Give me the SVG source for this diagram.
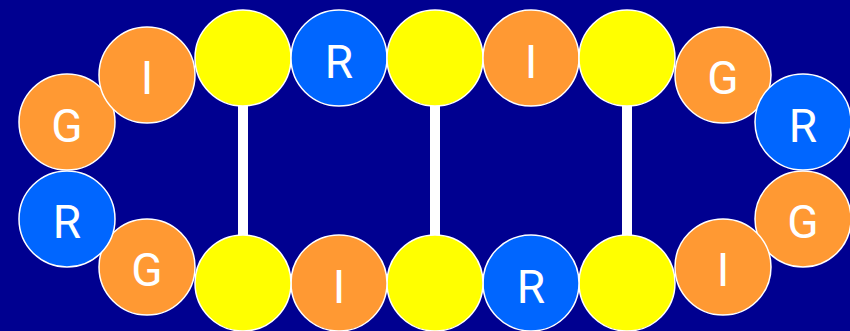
<svg xmlns="http://www.w3.org/2000/svg" width="850" height="331" viewBox="0 0 850 331">
<style>
.n{stroke:#ffffff;stroke-width:1.5}
.o{fill:#ff9933}
.b{fill:#0066ff}
.y{fill:#ffff00}
.t{fill:#ffffff;font-family:Roboto,"Liberation Sans",sans-serif;font-size:46px;text-anchor:middle}
.c{stroke:#ffffff;stroke-width:10;fill:none}
</style>
<rect width="850" height="331" fill="#000090"/>
<g id="connectors">
<line class="c" x1="243" y1="58" x2="243" y2="283"/>
<line class="c" x1="435" y1="58" x2="435" y2="283"/>
<line class="c" x1="627" y1="58" x2="627" y2="283"/>
</g>
<g id="n1"><circle class="n o" cx="67" cy="122" r="48"/><text class="t" x="67" y="142">G</text></g>
<g id="n2"><circle class="n o" cx="147" cy="75" r="48"/><text class="t" x="147" y="94">I</text></g>
<g id="n3"><circle class="n y" cx="243" cy="58" r="48"/></g>
<g id="n4"><circle class="n b" cx="339" cy="58" r="48"/><text class="t" x="339" y="78">R</text></g>
<g id="n5"><circle class="n y" cx="435" cy="58" r="48"/></g>
<g id="n6"><circle class="n o" cx="531" cy="58" r="48"/><text class="t" x="531" y="78">I</text></g>
<g id="n7"><circle class="n y" cx="627" cy="58" r="48"/></g>
<g id="n8"><circle class="n o" cx="723" cy="75" r="48"/><text class="t" x="723" y="94">G</text></g>
<g id="n9"><circle class="n b" cx="803" cy="122" r="48"/><text class="t" x="803" y="142">R</text></g>
<g id="n10"><circle class="n o" cx="803" cy="219" r="48"/><text class="t" x="803" y="238">G</text></g>
<g id="n11"><circle class="n o" cx="723" cy="267" r="48"/><text class="t" x="723" y="286">I</text></g>
<g id="n12"><circle class="n y" cx="627" cy="283" r="48"/></g>
<g id="n13"><circle class="n b" cx="531" cy="283" r="48"/><text class="t" x="531" y="303">R</text></g>
<g id="n14"><circle class="n y" cx="435" cy="283" r="48"/></g>
<g id="n15"><circle class="n o" cx="339" cy="283" r="48"/><text class="t" x="339" y="303">I</text></g>
<g id="n16"><circle class="n y" cx="243" cy="283" r="48"/></g>
<g id="n17"><circle class="n o" cx="147" cy="267" r="48"/><text class="t" x="147" y="286">G</text></g>
<g id="n18"><circle class="n b" cx="67" cy="219" r="48"/><text class="t" x="67" y="238">R</text></g>
</svg>
